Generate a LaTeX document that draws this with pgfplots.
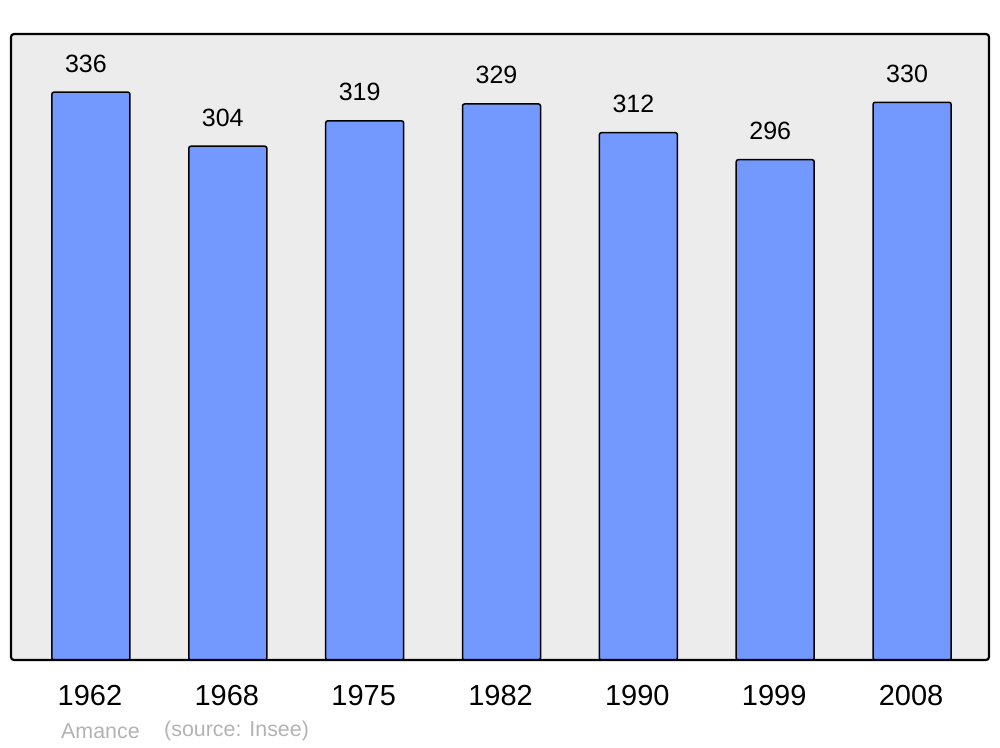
\documentclass[border=0pt]{standalone}
\usepackage{pgfplots}
\pgfplotsset{compat=1.18}
\usepackage{fontspec}
\setmainfont{Liberation Sans}
\definecolor{barblue}{HTML}{7399FF}
\definecolor{bggray}{HTML}{ECECEC}
\definecolor{srcgray}{HTML}{B3B3B3}
\begin{document}
\begin{tikzpicture}[x=1pt,y=1pt]
\path[use as bounding box] (0,0) rectangle (1000,747);
\begin{axis}[
  at={(11pt,87pt)}, anchor=south west,
  scale only axis, width=978pt, height=626pt,
  xmin=-0.584, xmax=6.562, ymin=0, ymax=370.4,
  axis line style={draw=none},
  axis background/.style={fill=bggray, rounded corners=3pt},
  ytick=\empty,
  xtick={0,1,2,3,4,5,6},
  xticklabels={1962,1968,1975,1982,1990,1999,2008},
  major tick length=0pt,
  xticklabel style={font=\fontsize{29}{32}\selectfont, inner sep=0pt, anchor=north, yshift=-25pt, xshift=-1pt},
  /pgf/number format/assume math mode=true,
  nodes near coords,
  every node near coord/.append style={font=\fontsize{25}{28}\selectfont, inner sep=0pt, anchor=south, yshift=19pt, xshift=-5pt},
  clip=false,
]
\addplot[ybar, bar width=78pt, fill=barblue, draw=black, line width=1.5pt, rounded corners=2pt]
  coordinates {(0,336) (1,304) (2,319) (3,329) (4,312) (5,296) (6,330)};
\draw[black, line width=2.2pt, rounded corners=3pt] (rel axis cs:0,0) rectangle (rel axis cs:1,1);
\end{axis}
\node[anchor=west, text=srcgray, font=\fontsize{21.4}{24}\selectfont, inner sep=0pt] at (61,16) {Amance};
\node[anchor=west, text=srcgray, font=\fontsize{21.4}{24}\selectfont, inner sep=0pt] at (164,16) {(source: Insee)};
\end{tikzpicture}
\end{document}
